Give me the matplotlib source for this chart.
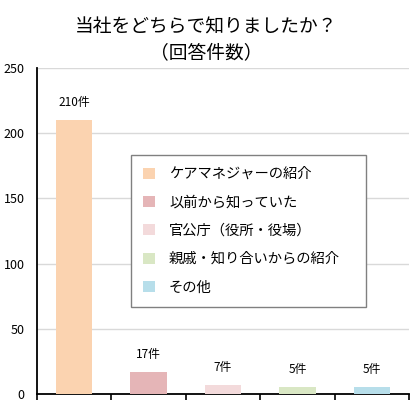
import matplotlib
matplotlib.use("Agg")
import matplotlib.pyplot as plt
from matplotlib.patches import Patch

plt.rcParams['font.family'] = ['Noto Sans CJK JP', 'DejaVu Sans']

categories = ["ケアマネジャーの紹介", "以前から知っていた", "官公庁（役所・役場）", "親戚・知り合いからの紹介", "その他"]
values = [210, 17, 7, 5, 5]
bar_labels = ["210件", "17件", "7件", "5件", "5件"]
colors = ["#FBD3B0", "#E5B5B7", "#F3DADB", "#D9E7C4", "#B7DEEA"]
yticks = [0, 50, 100, 150, 200, 250]
title_lines = ["当社をどちらで知りましたか？", "（回答件数）"]

fig = plt.figure(figsize=(4.13, 4.09), dpi=100)
ax = fig.add_axes([37/413, 15/409, 372/413, 326/409])

x = list(range(len(values)))
ax.bar(x, values, width=0.49, color=colors, zorder=3)
for xi, v, lab in zip(x, values, bar_labels):
    ax.annotate(lab, (xi, v), xytext=(0, 8), textcoords='offset points',
                ha='center', va='bottom', fontsize=8.5)

ax.set_xlim(-0.5, len(values) - 0.5)
ax.set_ylim(0, 250)
ax.set_yticks(yticks)
ax.tick_params(axis='y', length=0, labelsize=9, pad=9)
ax.set_xticks([i - 0.5 for i in range(len(values) + 1)])
ax.set_xticklabels([])
ax.tick_params(axis='x', length=4, width=1.2, direction='out', color='black')
ax.grid(axis='y', color='#D9D9D9', linewidth=1, zorder=0)
for s in ['top', 'right']:
    ax.spines[s].set_visible(False)
ax.spines['left'].set_linewidth(1.3)
ax.spines['bottom'].set_linewidth(1.3)

handles = [Patch(facecolor=c, edgecolor='none') for c in colors]
leg = ax.legend(handles, categories, loc='upper left',
                bbox_to_anchor=(0.253, 0.27, 0.631, 0.463), mode='expand',
                fontsize=10.3, frameon=True, fancybox=False, edgecolor='#808080',
                framealpha=1, handlelength=0.8, handleheight=0.8, handletextpad=1.0,
                labelspacing=1.0, borderpad=0.85, borderaxespad=0)
leg.get_frame().set_linewidth(1.0)
leg.set_zorder(5)

fig.text(0.5, 1 - 27/409, title_lines[0], ha='center', va='center', fontsize=13.5)
fig.text(0.5, 1 - 53/409, title_lines[1], ha='center', va='center', fontsize=13.5)

fig.savefig("out.png", dpi=100)
